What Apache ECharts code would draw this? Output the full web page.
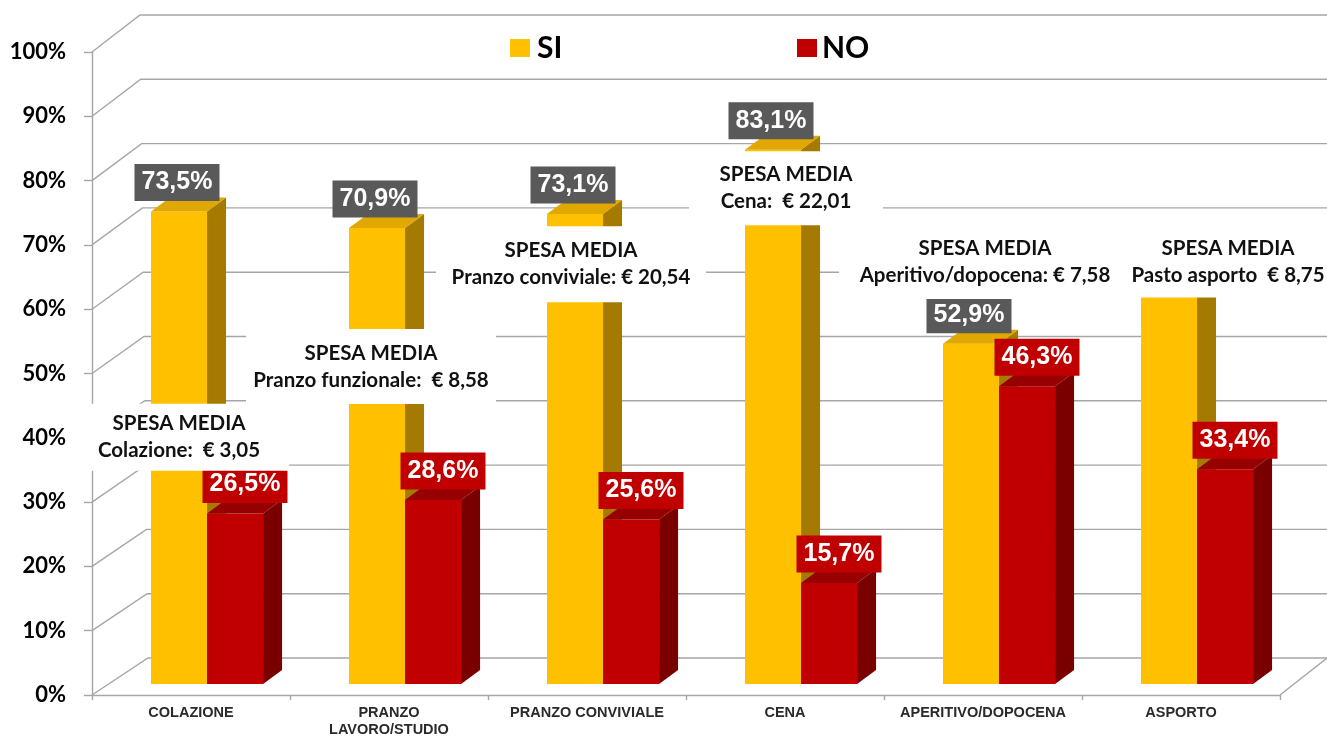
<!DOCTYPE html>
<html><head><meta charset="utf-8">
<script src="https://cdn.jsdelivr.net/npm/echarts@6/dist/echarts.min.js"></script>
<style>html,body{margin:0;padding:0;background:#fff}#c{width:1327px;height:738px}</style>
</head><body><div id="c"></div>
<script>
// ---- data ----
const categories = ['COLAZIONE', 'PRANZO\nLAVORO/STUDIO', 'PRANZO CONVIVIALE', 'CENA', 'APERITIVO/DOPOCENA', 'ASPORTO'];
const siValues = [73.5, 70.9, 73.1, 83.1, 52.9, 66.6];
const noValues = [26.5, 28.6, 25.6, 15.7, 46.3, 33.4];
const siLabelVisible = [true, true, true, true, true, false];
const yTicks = [0, 10, 20, 30, 40, 50, 60, 70, 80, 90, 100];
const spesaTitle = 'SPESA MEDIA';
const spesaLines = ['Colazione:  € 3,05', 'Pranzo funzionale:  € 8,58', 'Pranzo conviviale: € 20,54', 'Cena:  € 22,01', 'Aperitivo/dopocena: € 7,58', 'Pasto asporto  € 8,75'];

// ---- annotation layout (not data) ----
const annoLevel = [40.1, 51.1, 67.0, 78.8, 67.4, 67.4];
const annoShiftX = [-12, -18, -16, 1, 2, 47];
const annoBoxW = [220, 250, 270, 194, 292, 200];
const annoPad = [[9, 4], [10, 11], [11, 11], [10, 10], [10, 11], [9, 9]];

const GRID_COLOR = '#a6a6a6';
const DEPTH_X = 19, DEPTH_Y = -14, LIFT = 11;

function fmtPct(v) { return v.toFixed(1).replace('.', ',') + '%'; }

function renderWall(params, api) {
  const v = api.value(1);
  const p = api.coord([0, v]);
  const cs = params.coordSys;
  const x0 = cs.x, y = p[1];
  const dx = 56 - 0.08 * v, dy = -37;
  const W = api.getWidth();
  const children = [{
    type: 'polyline',
    shape: { points: [[x0, y], [x0 + dx, y + dy], [W + 5, y + dy]] },
    style: { stroke: GRID_COLOR, lineWidth: 1.4, fill: null }
  }];
  if (v === 0) {
    const xr = cs.x + cs.width;
    children.push({ type: 'line', shape: { x1: xr, y1: y, x2: xr + 47, y2: y + dy },
      style: { stroke: GRID_COLOR, lineWidth: 1.4 } });
  }
  return { type: 'group', children };
}

function makeBarRenderer(front, side, top, startFrac) {
  return function (params, api) {
    const idx = api.value(0), v = api.value(1);
    const c = api.coord([idx, v]);
    const b = api.coord([idx, 0]);
    const band = api.size([1, 0])[0];
    const w = band * 0.283;
    const xL = c[0] + band * startFrac, xR = xL + w;
    const yT = c[1] - LIFT, yB = b[1] - LIFT;
    return {
      type: 'group',
      children: [
        { type: 'polygon', shape: { points: [[xR, yB], [xR + DEPTH_X, yB + DEPTH_Y], [xR + DEPTH_X, yT + DEPTH_Y], [xR, yT]] }, style: { fill: side } },
        { type: 'rect', shape: { x: xL, y: yT, width: w, height: yB - yT }, style: { fill: front } },
        { type: 'polygon', shape: { points: [[xL, yT], [xL + DEPTH_X, yT + DEPTH_Y], [xR + DEPTH_X, yT + DEPTH_Y], [xR, yT]] }, style: { fill: top } }
      ]
    };
  };
}

const chart = echarts.init(document.getElementById('c'), null, { renderer: 'canvas' });

const valueLabelBase = {
  show: true, position: 'inside', color: '#fff', fontFamily: 'Liberation Sans', fontWeight: 'bold',
  fontSize: 25, lineHeight: 25, width: 71, overflow: 'none', padding: [6, 7, 6, 7], align: 'center', opacity: 1
};
const hiddenSymbol = { color: 'rgba(0,0,0,0)', opacity: 1 };

chart.setOption({
  animation: false,
  backgroundColor: '#fff',
  grid: { left: 92, right: 47, top: 52, bottom: 41 },
  legend: [
    { data: [{ name: 'SI', icon: 'rect' }], left: 505, top: 28, itemWidth: 20, itemHeight: 18,
      textStyle: { fontFamily: 'Lato', fontWeight: 'bold', fontSize: 30, color: '#000', padding: [0, 0, 0, 2] }, selectedMode: false },
    { data: [{ name: 'NO', icon: 'rect' }], left: 792, top: 28, itemWidth: 20, itemHeight: 18,
      textStyle: { fontFamily: 'Lato', fontWeight: 'bold', fontSize: 30, color: '#000', padding: [0, 0, 0, 0] }, selectedMode: false }
  ],
  xAxis: {
    type: 'category', data: categories, boundaryGap: true,
    axisLine: { lineStyle: { color: GRID_COLOR, width: 1.4 } },
    axisTick: { show: true, length: 5, lineStyle: { color: GRID_COLOR, width: 1.4 } },
    axisLabel: { fontFamily: 'Liberation Sans', fontWeight: 'bold', fontSize: 14.5, color: '#2a2a2a', lineHeight: 17, margin: 9, interval: 0 },
    splitLine: { show: false }
  },
  yAxis: {
    type: 'value', min: 0, max: 100, interval: 10,
    axisLine: { show: true, lineStyle: { color: GRID_COLOR, width: 1.4 } },
    axisTick: { show: true, length: 8, lineStyle: { color: GRID_COLOR, width: 1.4 } },
    axisLabel: { formatter: '{value}%', fontFamily: 'Lato', fontWeight: 'bold', fontSize: 22, color: '#000', margin: 26 },
    splitLine: { show: false }
  },
  series: [
    { type: 'custom', name: 'walls', z: 1, silent: true, renderItem: renderWall,
      encode: { x: 0, y: 1 }, data: yTicks.map(v => [0, v]) },
    { type: 'custom', name: 'SI', z: 2, silent: true, itemStyle: { color: '#FFC000' },
      renderItem: makeBarRenderer('#FFC000', '#A47B00', '#E0A800', -0.202),
      encode: { x: 0, y: 1 }, data: siValues.map((v, i) => [i, v]) },
    { type: 'custom', name: 'NO', z: 2, silent: true, itemStyle: { color: '#C00000' },
      renderItem: makeBarRenderer('#C00000', '#7A0000', '#960000', 0.081),
      encode: { x: 0, y: 1 }, data: noValues.map((v, i) => [i, v]) },
    { type: 'scatter', name: 'SI labels', z: 3, silent: true, symbolSize: 2, itemStyle: hiddenSymbol,
      label: Object.assign({}, valueLabelBase, { backgroundColor: '#595959', offset: [-14, -40],
        formatter: p => fmtPct(p.value[1]) }),
      data: siValues.map((v, i) => ({ value: [i, v], label: { show: siLabelVisible[i] } })) },
    { type: 'scatter', name: 'NO labels', z: 3, silent: true, symbolSize: 2, itemStyle: hiddenSymbol,
      label: Object.assign({}, valueLabelBase, { backgroundColor: '#C00000', offset: [54, -40],
        formatter: p => fmtPct(p.value[1]) }),
      data: noValues.map((v, i) => [i, v]) },
    { type: 'scatter', name: 'spesa', z: 4, silent: true, symbolSize: 2, itemStyle: hiddenSymbol,
      label: { show: true, position: 'inside', align: 'center', backgroundColor: '#fff', color: '#111',
        fontFamily: 'Lato', fontWeight: 'bold', fontSize: 20.5, lineHeight: 27, overflow: 'none', opacity: 1,
        formatter: p => spesaTitle + '\n' + spesaLines[p.dataIndex] },
      data: annoLevel.map((lv, i) => ({ value: [i, lv], label: {
        width: annoBoxW[i], offset: [annoShiftX[i], 0],
        padding: [annoPad[i][0], 0, annoPad[i][1], 0] } })) }
  ]
});
</script></body></html>
